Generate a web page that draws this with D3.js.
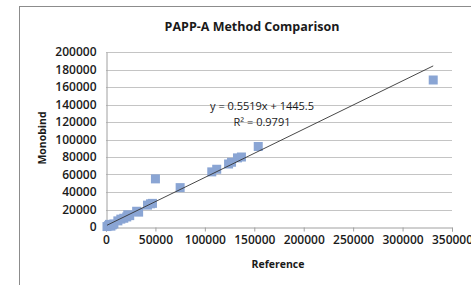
<!DOCTYPE html>
<html>
<head>
<meta charset="utf-8">
<script src="https://cdn.jsdelivr.net/npm/d3@7"></script>
<style>
  body { margin: 0; background: #fff; }
  svg text { font-family: "Open Sans", "Liberation Sans", sans-serif; fill: #1a1a1a; }
</style>
</head>
<body>
<div id="chart"></div>
<script>
// data
const reference = [1000, 2500, 3500, 5000, 6500, 8000, 12000, 15000, 18000, 21000, 22000, 24000,
                   31000, 33000, 42000, 45000, 47000, 50000, 75000, 107000, 112000, 124000,
                   127000, 133000, 137000, 154000, 331000];
const monobind  = [500, 1500, 3000, 1000, 2500, 3500, 7000, 9000, 10000, 11500, 14000, 13000,
                   18000, 17000, 25000, 26500, 27000, 55000, 45000, 63000, 66000, 72000,
                   74000, 79000, 80000, 92000, 168000];
const xTicks = [0, 50000, 100000, 150000, 200000, 250000, 300000, 350000];
const yTicks = [0, 20000, 40000, 60000, 80000, 100000, 120000, 140000, 160000, 180000, 200000];
const slope = 0.5519;
const intercept = 1445.5;
const equation = 'y = 0.5519x + 1445.5';
const rSquared = 'R² = 0.9791';

const width = 471;
const height = 285;
const margin = {left: 106, right: 19, top: 52, bottom: 58};

const svg = d3.select('#chart')
              .append('svg')
              .attr('width', width)
              .attr('height', height);

// outer chart frame (cropped on right / bottom)
svg.append('rect')
   .attr('x', 19.5).attr('y', 6.5)
   .attr('width', 500).attr('height', 400)
   .attr('fill', 'none')
   .attr('stroke', '#8c8c8c');

const xScale = d3.scaleLinear()
                 .domain([0, 350000])
                 .range([margin.left, width - margin.right]);

const yScale = d3.scaleLinear()
                 .domain([0, 200000])
                 .range([height - margin.bottom, margin.top]);

// gridlines
svg.append('g')
   .selectAll('line')
   .data(yTicks.filter(d => d > 0))
   .join('line')
   .attr('x1', xScale(0)).attr('x2', xScale(350000))
   .attr('y1', d => Math.round(yScale(d)) + 0.5)
   .attr('y2', d => Math.round(yScale(d)) + 0.5)
   .attr('stroke', '#c4c4c4')
   .attr('stroke-width', 1.2);

const xAxis = d3.axisBottom(xScale)
                .tickValues(xTicks)
                .tickFormat(d3.format('d'))
                .tickSize(4)
                .tickPadding(4);

const yAxis = d3.axisLeft(yScale)
                .tickValues(yTicks)
                .tickFormat(d3.format('d'))
                .tickSize(0)
                .tickPadding(10);

const gx = svg.append('g')
              .attr('transform', `translate(0,${Math.round(yScale(0)) + 0.5})`)
              .call(xAxis);
const gy = svg.append('g')
              .attr('transform', `translate(${Math.round(xScale(0)) + 0.5},0)`)
              .call(yAxis);

[gx, gy].forEach(g => {
  g.select('.domain').attr('stroke', '#a0a0a0');
  g.selectAll('.tick line').attr('stroke', '#a0a0a0');
  g.selectAll('.tick text')
   .attr('fill', '#1a1a1a')
   .style('font-size', '12px')
   .style('font-weight', '600')
   .style('font-family', '"Open Sans", sans-serif');
});

// data points
svg.append('g')
   .selectAll('rect')
   .data(reference.map((r, i) => [r, monobind[i]]))
   .join('rect')
   .attr('x', d => xScale(d[0]) - 4.5)
   .attr('y', d => yScale(d[1]) - 4.5)
   .attr('width', 9)
   .attr('height', 9)
   .attr('fill', '#8aa5d4');

// trendline
const xMin = d3.min(reference);
const xMax = d3.max(reference);
svg.append('line')
   .attr('x1', xScale(xMin)).attr('y1', yScale(slope * xMin + intercept))
   .attr('x2', xScale(xMax)).attr('y2', yScale(slope * xMax + intercept))
   .attr('stroke', '#333')
   .attr('stroke-width', 0.9);

// equation labels
svg.append('text')
   .attr('x', 262).attr('y', 110)
   .attr('text-anchor', 'middle')
   .style('font-size', '11px')
   .text(equation);
svg.append('text')
   .attr('x', 262).attr('y', 126)
   .attr('text-anchor', 'middle')
   .style('font-size', '11px')
   .text(rSquared);

// title and axis labels
svg.append('text')
   .attr('x', 252).attr('y', 31)
   .attr('text-anchor', 'middle')
   .style('font-size', '12.5px')
   .style('font-weight', 'bold')
   .text('PAPP-A Method Comparison');

svg.append('text')
   .attr('x', 278).attr('y', 268)
   .attr('text-anchor', 'middle')
   .style('font-size', '10.5px')
   .style('font-weight', 'bold')
   .text('Reference');

svg.append('text')
   .attr('transform', 'translate(46,138) rotate(-90)')
   .attr('text-anchor', 'middle')
   .style('font-size', '10.5px')
   .style('font-weight', 'bold')
   .text('Monobind');
</script>
</body>
</html>
